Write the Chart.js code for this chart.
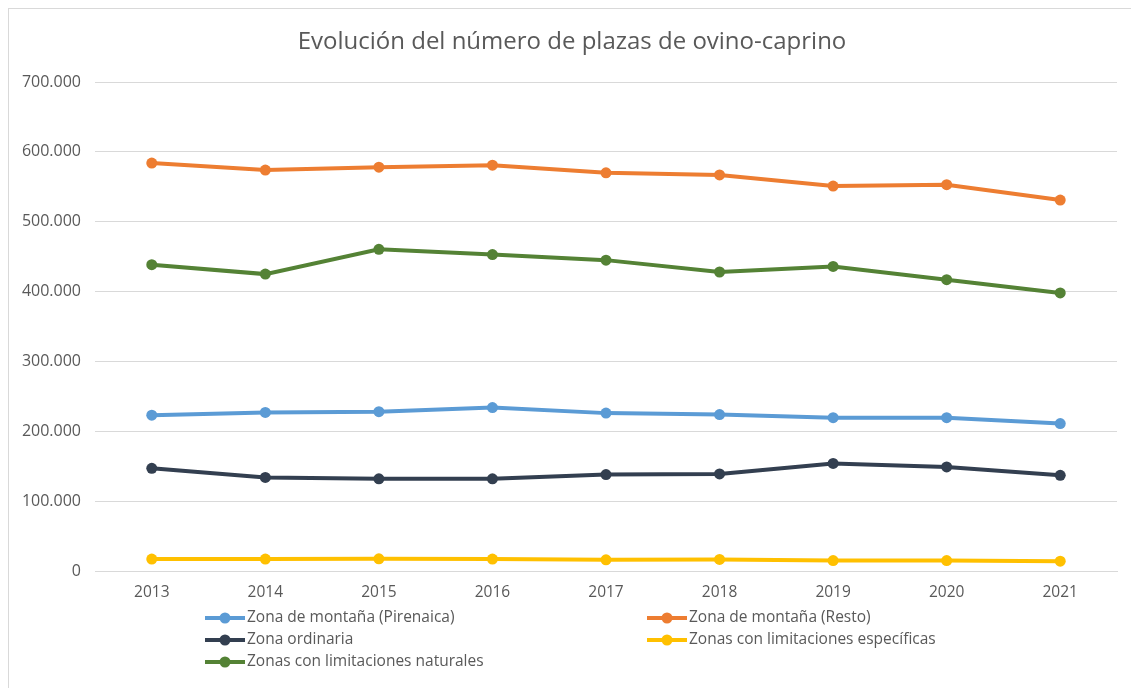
<!DOCTYPE html>
<html>
<head>
<meta charset="utf-8">
<script src="https://cdn.jsdelivr.net/npm/chart.js@4.4.1/dist/chart.umd.min.js"></script>
<style>
    body { margin: 0; background: #ffffff; }
    #wrap { position: relative; width: 1131px; height: 688px; }
    #frame {
        position: absolute; left: 8px; top: 8px; width: 1140px; height: 700px;
        border: 1px solid #d9d9d9; pointer-events: none;
    }
</style>
</head>
<body>
<div id="wrap">
    <canvas id="plazas-chart" width="1131" height="688"></canvas>
    <div id="frame"></div>
</div>
<script>
// Years on the x axis
const years = ['2013', '2014', '2015', '2016', '2017', '2018', '2019', '2020', '2021'];

// Number of places per zone
const pirenaica = [223000, 227000, 228000, 234000, 226000, 224000, 219500, 219500, 211000];
const montanaResto = [584000, 574000, 578000, 581000, 570000, 567000, 551000, 553000, 531000];
const ordinaria = [147000, 134000, 132000, 132000, 138000, 139000, 154000, 149000, 137000];
const especificas = [17000, 17000, 17500, 17000, 16000, 16500, 15000, 15000, 14000];
const naturales = [438500, 425000, 460500, 453000, 445000, 428000, 436000, 417000, 398000];

const seriesNames = [
    'Zona de montaña (Pirenaica)',
    'Zona de montaña (Resto)',
    'Zona ordinaria',
    'Zonas con limitaciones específicas',
    'Zonas con limitaciones naturales'
];
const seriesColors = ['#5b9bd5', '#ed7d31', '#333f50', '#ffc000', '#548235'];

const chartTitle = 'Evolución del número de plazas de ovino-caprino';

const FONT = '"Open Sans", "Liberation Sans", sans-serif';
const TEXT_COLOR = '#595959';

document.addEventListener('DOMContentLoaded', function() {
    initializePlazasChart();
});

function makeDataset(name, values, color) {
    return {
        label: name,
        data: values,
        borderColor: color,
        backgroundColor: color,
        borderWidth: 4,
        pointRadius: 5.5,
        pointHoverRadius: 5.5,
        pointBorderWidth: 0,
        pointBackgroundColor: color,
        pointBorderColor: color,
        tension: 0
    };
}

// Title centred on the whole frame, plus a two-column legend under the axis
const titleAndLegend = {
    id: 'titleAndLegend',
    afterDraw(chart) {
        const ctx = chart.ctx;
        ctx.save();

        ctx.font = '24px ' + FONT;
        ctx.fillStyle = TEXT_COLOR;
        ctx.textAlign = 'center';
        ctx.textBaseline = 'middle';
        ctx.fillText(chartTitle, 572, 42);

        const colX = [205, 647];
        const rowY = [618, 640, 662];
        ctx.font = '15.5px ' + FONT;
        ctx.textAlign = 'left';
        chart.data.datasets.forEach((ds, i) => {
            const x = colX[i % 2];
            const y = rowY[Math.floor(i / 2)];
            ctx.strokeStyle = ds.borderColor;
            ctx.lineWidth = 4;
            ctx.beginPath();
            ctx.moveTo(x, y);
            ctx.lineTo(x + 40, y);
            ctx.stroke();
            ctx.fillStyle = ds.borderColor;
            ctx.beginPath();
            ctx.arc(x + 20, y, 5.5, 0, Math.PI * 2);
            ctx.fill();
            ctx.fillStyle = TEXT_COLOR;
            ctx.fillText(ds.label, x + 42, y);
        });
        ctx.restore();
    }
};

function initializePlazasChart() {
    const ctx = document.getElementById('plazas-chart').getContext('2d');
    const allSeries = [pirenaica, montanaResto, ordinaria, especificas, naturales];

    window.plazasChart = new Chart(ctx, {
        type: 'line',
        data: {
            labels: years,
            datasets: allSeries.map((values, i) => makeDataset(seriesNames[i], values, seriesColors[i]))
        },
        options: {
            responsive: false,
            animation: false,
            layout: {
                padding: { left: 0, right: 14, top: 82, bottom: 77 }
            },
            plugins: {
                legend: { display: false },
                tooltip: { enabled: false },
                title: { display: false }
            },
            scales: {
                x: {
                    offset: true,
                    grid: { display: false, drawTicks: false },
                    border: { display: true, color: '#d9d9d9', width: 1 },
                    ticks: {
                        color: TEXT_COLOR,
                        font: { family: FONT, size: 15.5 },
                        padding: 12
                    },
                    afterFit(scale) { scale.height = 40; }
                },
                y: {
                    min: 0,
                    max: 700000,
                    grid: { color: '#d9d9d9', lineWidth: 1, drawTicks: false },
                    border: { display: false },
                    ticks: {
                        stepSize: 100000,
                        color: TEXT_COLOR,
                        font: { family: FONT, size: 16 },
                        padding: 14,
                        callback: value => value.toLocaleString('de-DE')
                    },
                    afterFit(scale) { scale.width = 95; }
                }
            }
        },
        plugins: [titleAndLegend]
    });
}
</script>
</body>
</html>
